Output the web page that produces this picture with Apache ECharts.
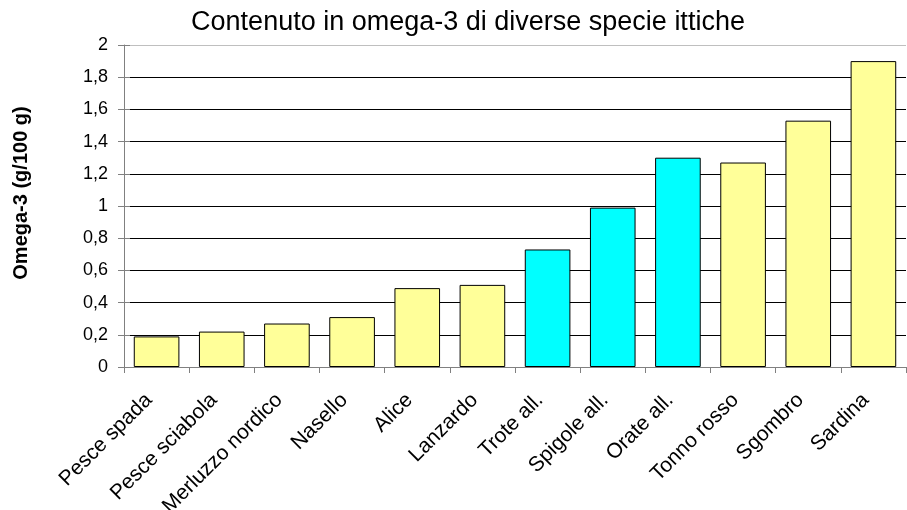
<!DOCTYPE html>
<html>
<head>
<meta charset="utf-8">
<script src="https://cdn.jsdelivr.net/npm/echarts@6/dist/echarts.min.js"></script>
<style>
  html, body { margin: 0; padding: 0; background: #fff; }
  #chart { width: 907px; height: 510px; }
</style>
</head>
<body>
<div id="chart"></div>
<script>
// Species, in ascending order of omega-3 content
const species = ['Pesce spada', 'Pesce sciabola', 'Merluzzo nordico', 'Nasello', 'Alice', 'Lanzardo',
  'Trote all.', 'Spigole all.', 'Orate all.', 'Tonno rosso', 'Sgombro', 'Sardina'];
// Omega-3, g per 100 g
const omega3 = [0.19, 0.22, 0.27, 0.31, 0.49, 0.51, 0.73, 0.99, 1.30, 1.27, 1.53, 1.90];
// Farmed species, drawn in a separate colour
const farmed = ['Trote all.', 'Spigole all.', 'Orate all.'];

const FONT = '"Liberation Sans", Arial, sans-serif';
const chart = echarts.init(document.getElementById('chart'), null, { renderer: 'canvas' });

// horizontal gridlines: black, with the top one in light grey like the plot frame
const gridColors = ['#000', '#000', '#000', '#000', '#000', '#000', '#000', '#000', '#000', '#000', '#bfbfbf'];
const fmt = v => String(Math.round(v * 10) / 10).replace('.', ',');

chart.setOption({
  animation: false,
  backgroundColor: '#fff',
  title: {
    text: 'Contenuto in omega-3 di diverse specie ittiche',
    left: 463, top: 4, textAlign: 'center',
    textStyle: { fontFamily: FONT, fontSize: 27, fontWeight: 'normal', color: '#000' }
  },
  grid: { left: 124, right: 1, top: 45, bottom: 143, containLabel: false, outerBoundsMode: 'none' },
  xAxis: {
    type: 'category',
    data: species,
    axisLine: { lineStyle: { color: '#808080', width: 1 } },
    axisTick: { show: true, alignWithLabel: false, length: 6, lineStyle: { color: '#808080' } },
    axisLabel: {
      rotate: 45, interval: 0, margin: 22, padding: [0, 11, 0, 0],
      fontFamily: FONT, fontSize: 21, color: '#000'
    }
  },
  yAxis: [{
    type: 'value',
    min: 0, max: 2, interval: 0.2,
    name: 'Omega-3 (g/100 g)',
    nameLocation: 'middle',
    nameGap: 93,
    nameRotate: 90,
    nameTextStyle: { fontFamily: FONT, fontSize: 20, fontWeight: 'bold', color: '#000', padding: [0, 0, 0, 26] },
    axisLine: { show: true, lineStyle: { color: '#808080', width: 1 } },
    axisTick: { show: true, inside: false, length: 6, lineStyle: { color: '#808080' } },
    axisLabel: { margin: 16, fontFamily: FONT, fontSize: 18, color: '#000', formatter: fmt },
    splitLine: { show: true, lineStyle: { color: gridColors, width: 1 } }
  }, {
    // companion axis that only draws the inner half of the cross ticks
    type: 'value',
    position: 'left',
    min: 0, max: 2, interval: 0.2,
    axisLine: { show: false },
    axisTick: { show: true, inside: true, length: 6, lineStyle: { color: '#808080' } },
    axisLabel: { show: false },
    splitLine: { show: false }
  }],
  series: [{
    type: 'bar',
    data: omega3,
    barCategoryGap: '30%',
    itemStyle: {
      borderColor: '#000', borderWidth: 1,
      color: p => farmed.includes(species[p.dataIndex]) ? '#00ffff' : '#ffff99'
    }
  }]
});
</script>
</body>
</html>
